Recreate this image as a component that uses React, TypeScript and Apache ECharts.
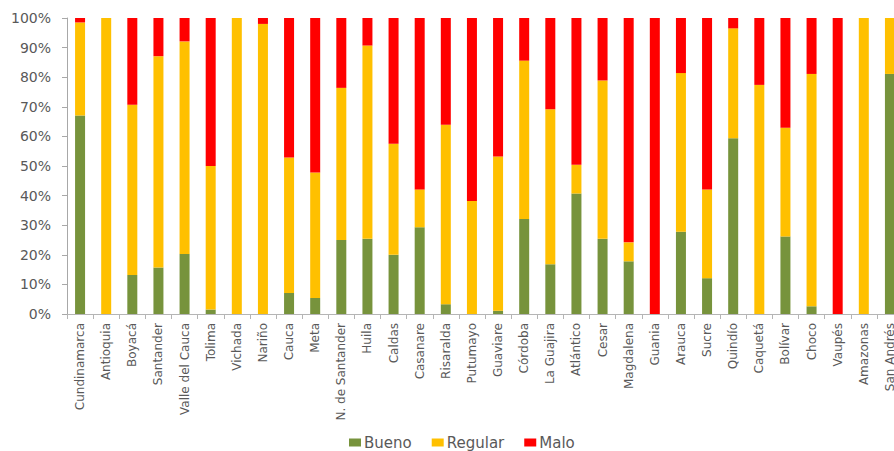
import React, { useEffect, useRef } from "react";
import * as echarts from "echarts";

const categories = [
  "Cundinamarca", "Antioquia", "Boyacá", "Santander", "Valle del Cauca", "Tolima",
  "Vichada", "Nariño", "Cauca", "Meta", "N. de Santander", "Huila", "Caldas",
  "Casanare", "Risaralda", "Putumayo", "Guaviare", "Córdoba", "La Guajira",
  "Atlántico", "Cesar", "Magdalena", "Guania", "Arauca", "Sucre", "Quindío",
  "Caquetá", "Bolívar", "Choco", "Vaupés", "Amazonas", "San Andrés",
];

const bueno = [
  67.1, 0, 13.2, 15.7, 20.3, 1.5, 0, 0, 7.1, 5.4, 25.0, 25.4, 20.0, 29.3, 3.3, 0,
  1.1, 32.1, 16.8, 40.7, 25.4, 17.8, 0, 27.8, 12.1, 59.4, 0, 26.2, 2.6, 0, 0, 81.1,
];
const regular = [
  31.4, 100, 57.5, 71.4, 71.8, 48.5, 100, 98.0, 45.8, 42.4, 51.4, 65.3, 37.5, 12.8,
  60.6, 38.2, 52.1, 53.5, 52.4, 9.7, 53.5, 6.4, 0, 53.6, 30.0, 37.1, 77.4, 36.7,
  78.5, 0, 100, 18.9,
];
const malo = [
  1.5, 0, 29.3, 12.9, 7.9, 50.0, 0, 2.0, 47.1, 52.2, 23.6, 9.3, 42.5, 57.9, 36.1,
  61.8, 46.8, 14.4, 30.8, 49.6, 21.1, 75.8, 100, 18.6, 57.9, 3.5, 22.6, 37.1, 18.9,
  100, 0, 0,
];

const seriesNames = ["Bueno", "Regular", "Malo"];
const seriesColors = ["#77933C", "#FFC000", "#FF0000"];

export default function App() {
  const ref = useRef<HTMLDivElement>(null);
  useEffect(() => {
    if (!ref.current) return;
    const chart = echarts.init(ref.current, null, { renderer: "svg" });
    const textColor = "#595959";
    const font = "DejaVu Sans";
    const data = [bueno, regular, malo];
    chart.setOption({
      animation: false,
      backgroundColor: "#ffffff",
      grid: { left: 67, top: 18, bottom: 137, right: 0, containLabel: false },
      legend: {
        left: 344,
        top: 430,
        itemWidth: 12,
        itemHeight: 8,
        itemGap: 20,
        icon: "rect",
        textStyle: { color: textColor, fontFamily: font, fontSize: 15, padding: [0, 0, 0, -2] },
        data: seriesNames,
      },
      xAxis: {
        type: "category",
        data: categories,
        axisLine: { lineStyle: { color: "#b5b5b5", width: 1 } },
        axisTick: { show: true, length: 5, lineStyle: { color: "#b5b5b5" } },
        axisLabel: {
          rotate: 90,
          interval: 0,
          margin: 9,
          color: textColor,
          fontFamily: font,
          fontSize: 12,
        },
      },
      yAxis: {
        type: "value",
        min: 0,
        max: 100,
        interval: 10,
        splitLine: { show: false },
        axisLine: { show: true, lineStyle: { color: "#a8a8a8", width: 1 } },
        axisTick: { show: true, length: 5, lineStyle: { color: "#a8a8a8" } },
        axisLabel: {
          formatter: "{value}%",
          margin: 16,
          color: textColor,
          fontFamily: font,
          fontSize: 14,
        },
      },
      series: seriesNames.map((name, i) => ({
        name,
        type: "bar",
        stack: "total",
        barWidth: 10,
        itemStyle: { color: seriesColors[i] },
        data: data[i],
      })),
    });
    return () => chart.dispose();
  }, []);
  return (
    <div
      style={{ position: "absolute", left: 0, top: 0, width: 894, height: 451, overflow: "hidden", background: "#fff" }}
    >
      <div ref={ref} style={{ width: 903, height: 451 }} />
    </div>
  );
}
